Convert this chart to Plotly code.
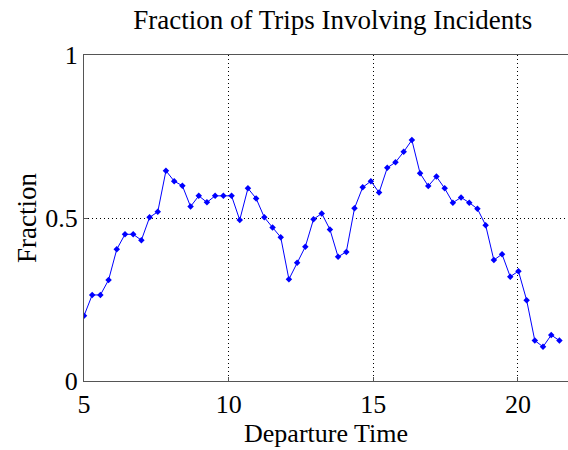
import plotly.graph_objects as go

departure_time = [5.000, 5.283, 5.567, 5.850, 6.133, 6.417, 6.700, 6.983, 7.267, 7.550,
                  7.833, 8.117, 8.400, 8.683, 8.967, 9.250, 9.533, 9.817, 10.100, 10.383,
                  10.667, 10.950, 11.233, 11.517, 11.800, 12.083, 12.367, 12.650, 12.933, 13.217,
                  13.500, 13.783, 14.067, 14.350, 14.633, 14.917, 15.200, 15.483, 15.767, 16.050,
                  16.333, 16.617, 16.900, 17.183, 17.467, 17.750, 18.033, 18.317, 18.600, 18.883,
                  19.167, 19.450, 19.733, 20.017, 20.300, 20.583, 20.867, 21.150, 21.433]

fraction = [0.200, 0.264, 0.264, 0.310, 0.404, 0.450, 0.450, 0.432, 0.502, 0.519,
            0.645, 0.613, 0.599, 0.535, 0.568, 0.548, 0.568, 0.568, 0.568, 0.494,
            0.591, 0.560, 0.502, 0.471, 0.441, 0.312, 0.363, 0.412, 0.496, 0.514,
            0.465, 0.381, 0.396, 0.530, 0.594, 0.613, 0.578, 0.654, 0.671, 0.703,
            0.739, 0.637, 0.598, 0.627, 0.591, 0.547, 0.563, 0.547, 0.528, 0.478,
            0.371, 0.389, 0.320, 0.337, 0.248, 0.124, 0.105, 0.141, 0.124]

x_ticks = [5, 10, 15, 20]
y_ticks = [0, 0.5, 1]
y_tick_labels = ["0", "0.5", "1"]

FONT = "Liberation Serif, Times New Roman, serif"

fig = go.Figure()
fig.add_trace(go.Scatter(
    x=departure_time, y=fraction, mode="lines+markers",
    line=dict(color="#0000ff", width=1),
    marker=dict(symbol="diamond", size=5, color="#0000ff"),
    showlegend=False,
))

fig.update_layout(
    width=568, height=450,
    margin=dict(l=84, r=0, t=55, b=69),
    paper_bgcolor="white", plot_bgcolor="white",
    font=dict(family=FONT, size=26, color="black"),
    title=dict(text="Fraction of Trips Involving Incidents", x=0.514, xref="paper",
               xanchor="center", y=0.957, yref="container", yanchor="middle",
               font=dict(family=FONT, size=27, color="black")),
)

fig.update_xaxes(
    range=[5, 21.73], tickvals=x_ticks, ticktext=[str(v) for v in x_ticks],
    showline=True, linecolor="#555555", linewidth=1, mirror=True,
    ticks="inside", ticklen=4, tickcolor="#555555",
    showgrid=True, gridcolor="black", griddash="1px,3px", gridwidth=1,
    zeroline=False,
    title=dict(text="Departure Time", standoff=0, font=dict(family=FONT, size=26)),
    tickfont=dict(family=FONT, size=26),
)
fig.update_yaxes(
    range=[0, 1], tickvals=y_ticks, ticktext=y_tick_labels,
    showline=True, linecolor="#555555", linewidth=1, mirror=False,
    ticks="inside", ticklen=4, tickcolor="#555555",
    showgrid=True, gridcolor="black", griddash="1px,3px", gridwidth=1,
    zeroline=False,
    title=dict(text="Fraction", standoff=0, font=dict(family=FONT, size=27)),
    tickfont=dict(family=FONT, size=26),
)

# remove the browser's default 8px body margin so the figure sits at the page origin
fig.write_html("out.html", config={"displayModeBar": False},
               post_script="document.body.style.margin='0';")
